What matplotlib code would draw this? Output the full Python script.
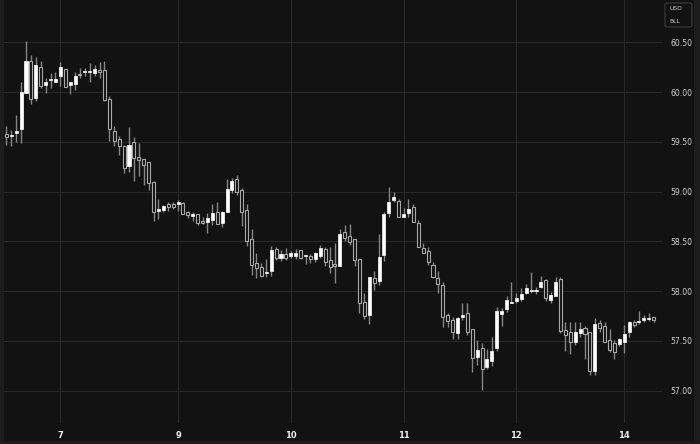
import matplotlib
matplotlib.use('Agg')
import matplotlib.pyplot as plt
from matplotlib.patches import Rectangle, FancyBboxPatch
import numpy as np

# Hourly OHLC bars
opens = [59.58, 59.56, 59.59, 59.63, 59.99, 60.31, 59.94, 60.25, 60.07, 60.12,
         60.10, 60.16, 60.23, 60.07, 60.08, 60.18, 60.20, 60.20, 60.19, 60.22,
         60.22, 59.93, 59.61, 59.53, 59.46, 59.26, 59.50, 59.35, 59.33, 59.30,
         59.10, 58.81, 58.82, 58.88, 58.88, 58.88, 58.89, 58.79, 58.75, 58.77,
         58.70, 58.69, 58.71, 58.79, 58.68, 58.79, 59.02, 59.13, 59.02, 58.82,
         58.52, 58.28, 58.24, 58.18, 58.20, 58.42, 58.33, 58.37, 58.35, 58.35,
         58.41, 58.35, 58.35, 58.32, 58.35, 58.42, 58.31, 58.27, 58.25, 58.59,
         58.55, 58.52, 58.32, 57.89, 57.76, 58.13, 58.10, 58.36, 58.78, 58.92,
         58.91, 58.74, 58.78, 58.85, 58.68, 58.43, 58.40, 58.26, 58.13, 58.06,
         57.76, 57.71, 57.58, 57.74, 57.78, 57.62, 57.34, 57.43, 57.24, 57.30,
         57.43, 57.77, 57.82, 57.88, 57.90, 57.92, 57.98, 58.00, 58.00, 58.04,
         58.11, 57.91, 57.95, 58.12, 57.61, 57.59, 57.49, 57.58, 57.63, 57.59,
         57.20, 57.68, 57.65, 57.51, 57.48, 57.47, 57.49, 57.59, 57.69, 57.69,
         57.71, 57.72, 57.74]
highs = [59.66, 59.62, 59.77, 60.10, 60.51, 60.37, 60.35, 60.31, 60.14, 60.19,
         60.20, 60.30, 60.23, 60.10, 60.20, 60.24, 60.24, 60.29, 60.27, 60.30,
         60.31, 59.96, 59.66, 59.56, 59.47, 59.65, 59.55, 59.49, 59.33, 59.30,
         59.11, 58.93, 58.87, 58.90, 58.90, 58.92, 58.90, 58.81, 58.80, 58.77,
         58.74, 58.78, 58.88, 58.90, 58.81, 59.13, 59.14, 59.17, 59.04, 58.88,
         58.62, 58.38, 58.28, 58.32, 58.45, 58.44, 58.41, 58.43, 58.40, 58.42,
         58.41, 58.36, 58.37, 58.39, 58.46, 58.44, 58.44, 58.48, 58.62, 58.66,
         58.67, 58.52, 58.32, 57.98, 58.14, 58.20, 58.57, 58.79, 59.05, 59.00,
         58.93, 58.84, 58.93, 58.88, 58.71, 58.48, 58.44, 58.29, 58.20, 58.09,
         57.78, 57.74, 57.74, 57.88, 57.88, 57.62, 57.51, 57.48, 57.42, 57.54,
         57.84, 57.83, 57.95, 58.09, 57.98, 58.03, 58.07, 58.19, 58.04, 58.15,
         58.12, 57.99, 58.14, 58.14, 57.69, 57.69, 57.69, 57.69, 57.65, 57.59,
         57.73, 57.71, 57.69, 57.62, 57.51, 57.53, 57.66, 57.70, 57.71, 57.80,
         57.76, 57.78, 57.74]
lows = [59.47, 59.46, 59.50, 59.49, 59.99, 59.88, 59.91, 60.04, 59.99, 60.04,
        60.10, 60.06, 60.05, 59.98, 60.02, 60.14, 60.16, 60.10, 60.16, 60.14,
        59.91, 59.51, 59.46, 59.37, 59.19, 59.20, 59.11, 59.16, 59.07, 59.02,
        58.70, 58.72, 58.79, 58.81, 58.83, 58.81, 58.77, 58.73, 58.70, 58.66,
        58.67, 58.58, 58.66, 58.67, 58.64, 58.79, 58.99, 58.97, 58.65, 58.45,
        58.16, 58.13, 58.14, 58.14, 58.15, 58.31, 58.30, 58.31, 58.33, 58.32,
        58.32, 58.27, 58.28, 58.29, 58.33, 58.25, 58.18, 58.08, 58.25, 58.50,
        58.46, 58.25, 57.78, 57.72, 57.67, 58.01, 58.06, 58.30, 58.74, 58.90,
        58.74, 58.74, 58.74, 58.69, 58.44, 58.38, 58.26, 58.13, 57.98, 57.64,
        57.64, 57.52, 57.52, 57.71, 57.56, 57.19, 57.26, 57.01, 57.22, 57.25,
        57.40, 57.65, 57.79, 57.88, 57.88, 57.90, 57.97, 57.98, 57.97, 58.03,
        57.90, 57.88, 57.95, 57.58, 57.40, 57.37, 57.46, 57.54, 57.32, 57.16,
        57.16, 57.59, 57.49, 57.39, 57.32, 57.45, 57.38, 57.54, 57.64, 57.67,
        57.69, 57.70, 57.69]
closes = [59.55, 59.57, 59.61, 60.00, 60.31, 59.93, 60.27, 60.06, 60.10, 60.12,
          60.13, 60.25, 60.05, 60.10, 60.16, 60.17, 60.21, 60.20, 60.23, 60.20,
          59.92, 59.63, 59.51, 59.46, 59.24, 59.47, 59.34, 59.32, 59.27, 59.09,
          58.80, 58.81, 58.86, 58.85, 58.85, 58.88, 58.77, 58.76, 58.77, 58.68,
          58.68, 58.73, 58.78, 58.67, 58.79, 59.03, 59.11, 59.00, 58.79, 58.50,
          58.26, 58.23, 58.15, 58.19, 58.41, 58.33, 58.37, 58.33, 58.38, 58.38,
          58.33, 58.35, 58.32, 58.38, 58.43, 58.29, 58.24, 58.25, 58.57, 58.53,
          58.49, 58.31, 57.88, 57.75, 58.14, 58.08, 58.34, 58.77, 58.90, 58.95,
          58.74, 58.77, 58.83, 58.69, 58.44, 58.38, 58.29, 58.14, 58.07, 57.74,
          57.70, 57.59, 57.73, 57.76, 57.59, 57.33, 57.41, 57.22, 57.32, 57.40,
          57.80, 57.80, 57.91, 57.89, 57.93, 57.97, 58.03, 58.00, 58.00, 58.09,
          57.93, 57.96, 58.09, 57.60, 57.56, 57.49, 57.59, 57.62, 57.57, 57.20,
          57.67, 57.63, 57.49, 57.41, 57.39, 57.52, 57.57, 57.69, 57.66, 57.69,
          57.73, 57.72, 57.71]

# first bar of each labelled day
day_labels = ['7', '9', '10', '11', '12', '14']
day_first_bar = [11, 35, 58, 81, 104, 126]

price_ticks = [57.0, 57.5, 58.0, 58.5, 59.0, 59.5, 60.0, 60.5]

BG = '#121212'
FRAME = '#1d1d1d'
GRID = '#282828'
UP = '#ffffff'
DOWN_EDGE = '#a8a8a8'
WICK = '#858585'

W, H = 700, 444
fig = plt.figure(figsize=(7, 4.44), dpi=100, facecolor=FRAME)
# inner panel (leaves thin frame left/right/bottom)
fig.patches.append(Rectangle((4 / W, 3 / H), 690 / W, 441 / H,
                             transform=fig.transFigure, facecolor=BG,
                             edgecolor='none', zorder=-5))

ax = fig.add_axes([4 / W, 21 / H, 658 / W, 423 / H])
ax.set_facecolor(BG)

o = np.array(opens)
h = np.array(highs)
l = np.array(lows)
c = np.array(closes)
x = np.arange(len(o))

# wicks
ax.vlines(x, l, h, color=WICK, linewidth=1, zorder=2)

# bodies
up = c >= o
bottom = np.minimum(o, c)
height = np.maximum(np.abs(c - o), 0.012)
ax.bar(x[up], height[up], bottom=bottom[up], width=0.62,
       color=UP, edgecolor=UP, linewidth=0.5, zorder=3)
ax.bar(x[~up], height[~up], bottom=bottom[~up], width=0.62,
       color=BG, edgecolor=DOWN_EDGE, linewidth=0.8, zorder=3)

ax.set_xlim(-0.49, 133.7)
ax.set_ylim(56.675, 60.925)

ax.set_xticks(day_first_bar)
ax.set_xticklabels(day_labels)
ax.set_yticks(price_ticks)
ax.set_yticklabels([f'{p:.2f}' for p in price_ticks])
ax.yaxis.tick_right()
ax.tick_params(axis='x', length=0, pad=6, labelsize=6, labelcolor='#f0f0f0')
ax.tick_params(axis='y', length=0, pad=6, labelsize=5.6, labelcolor='#cfcfcf')
for lab in ax.get_xticklabels():
    lab.set_fontweight('bold')

ax.grid(True, color=GRID, linewidth=0.8, zorder=0)
ax.set_axisbelow(True)
for s in ax.spines.values():
    s.set_visible(False)

# little currency / unit box top right
box = FancyBboxPatch((665 / W, (H - 27) / H), 27 / W, 24 / H,
                     boxstyle='round,pad=0,rounding_size=0.004',
                     transform=fig.transFigure, facecolor=BG,
                     edgecolor='#3c3c3c', linewidth=0.8)
fig.patches.append(box)
fig.text(669 / W, (H - 8) / H, 'USD', color='#cfcfcf', fontsize=4.3,
         va='center', ha='left')
fig.text(669 / W, (H - 21.5) / H, 'BLL', color='#cfcfcf', fontsize=4.3,
         va='center', ha='left')

fig.savefig('out.png', dpi=100, facecolor=FRAME)
